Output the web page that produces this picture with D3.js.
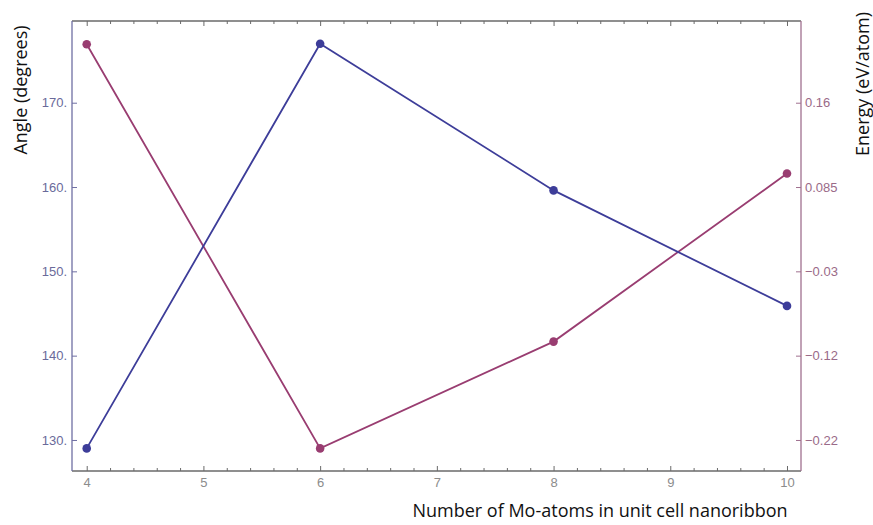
<!DOCTYPE html>
<html>
<head>
<meta charset="utf-8">
<script src="https://cdn.jsdelivr.net/npm/d3@7"></script>
<style>
  html, body { margin: 0; padding: 0; background: #fff; }
  svg { display: block; }
</style>
</head>
<body>
<svg id="chart" width="873" height="525"></svg>
<script>
// ---- data ----
const atoms = [4, 6, 8, 10];
const angleValues = [129.0, 177.0, 159.6, 145.9];          // degrees (left axis)
const energyValues = [0.212, -0.230, -0.105, 0.097];      // eV/atom (right axis)
const xTicks = [4, 5, 6, 7, 8, 9, 10];
const angleTicks = [130, 140, 150, 160, 170];
const energyTicks = [-0.22, -0.12, -0.03, 0.085, 0.16];
const energyTickLabels = ["\u22120.22", "\u22120.12", "\u22120.03", "0.085", "0.16"];

(function () {
const W = 873, H = 525;
const mLeft = 72, mRight = 801, mTop = 21, mBottom = 471;

const svg = d3.select("#chart");
svg.append("rect").attr("width", W).attr("height", H).attr("fill", "#fff");

const x = d3.scaleLinear().domain([3.874, 10.12]).range([mLeft, mRight]);
const y = d3.scaleLinear().domain([126.32, 179.69]).range([mBottom, mTop]);
// right axis: the energy labels sit at the angle tick positions (piecewise scale)
const yE = d3.scaleLinear().domain(energyTicks).range(angleTicks.map(v => y(v)));

const minorX = d3.range(0, 31).map(i => 4 + i * 0.2).filter(v => Math.abs(v - Math.round(v)) > 1e-6);

const tickFont = "Liberation Sans, Arial, sans-serif";
const leftCol = "#6f6fa3", rightCol = "#a0708f", frameCol = "#6a6a6a";
const blue = "#3d3d99", purple = "#993d71";

function styleAxis(g, col, textCol) {
  g.select(".domain").attr("stroke", col).attr("stroke-width", 1.3);
  g.selectAll(".tick line").attr("stroke", col).attr("stroke-width", 1);
  g.selectAll(".tick text").attr("fill", textCol).attr("font-family", tickFont).attr("font-size", 13);
}

// bottom axis
const gB = svg.append("g").attr("transform", `translate(0,${mBottom})`)
  .call(d3.axisBottom(x).tickValues(xTicks).tickFormat(d3.format("d")).tickSizeInner(-5).tickSizeOuter(0).tickPadding(7));
styleAxis(gB, frameCol, "#8c8c8c");
gB.select(".domain").attr("d", `M${mLeft},0H${mRight}`);
const gBm = svg.append("g").attr("transform", `translate(0,${mBottom})`)
  .call(d3.axisBottom(x).tickValues(minorX).tickFormat("").tickSizeInner(-3).tickSizeOuter(0));
styleAxis(gBm, frameCol, "#888");
gBm.select(".domain").remove();

// top axis
const gT = svg.append("g").attr("transform", `translate(0,${mTop})`)
  .call(d3.axisTop(x).tickValues(xTicks).tickFormat("").tickSizeInner(-5).tickSizeOuter(0));
styleAxis(gT, frameCol, "#888");
gT.select(".domain").attr("d", `M${mLeft},0H${mRight}`);
const gTm = svg.append("g").attr("transform", `translate(0,${mTop})`)
  .call(d3.axisTop(x).tickValues(minorX).tickFormat("").tickSizeInner(-3).tickSizeOuter(0));
styleAxis(gTm, frameCol, "#888");
gTm.select(".domain").remove();

// left axis
const gL = svg.append("g").attr("transform", `translate(${mLeft},0)`)
  .call(d3.axisLeft(y).tickValues(angleTicks).tickFormat(d => d + ".").tickSizeInner(-5).tickSizeOuter(0).tickPadding(5));
styleAxis(gL, leftCol, "#6a6a9a");
gL.select(".domain").attr("d", `M0,${mTop}V${mBottom}`);

// right axis
const gR = svg.append("g").attr("transform", `translate(${mRight},0)`)
  .call(d3.axisRight(yE).tickValues(energyTicks).tickFormat((d, i) => energyTickLabels[i]).tickSizeInner(-5).tickSizeOuter(0).tickPadding(4));
styleAxis(gR, rightCol, "#9a6a88");
gR.select(".domain").attr("d", `M0,${mTop}V${mBottom}`);

// series
const angleData = atoms.map((a, i) => ({ x: a, v: angleValues[i] }));
const energyData = atoms.map((a, i) => ({ x: a, v: energyValues[i] }));

svg.append("path").datum(energyData)
  .attr("fill", "none").attr("stroke", purple).attr("stroke-width", 1.8)
  .attr("d", d3.line().x(d => x(d.x)).y(d => yE(d.v)));
svg.append("g").selectAll("circle").data(energyData).join("circle")
  .attr("cx", d => x(d.x)).attr("cy", d => yE(d.v)).attr("r", 4.3).attr("fill", purple);

svg.append("path").datum(angleData)
  .attr("fill", "none").attr("stroke", blue).attr("stroke-width", 1.8)
  .attr("d", d3.line().x(d => x(d.x)).y(d => y(d.v)));
svg.append("g").selectAll("circle").data(angleData).join("circle")
  .attr("cx", d => x(d.x)).attr("cy", d => y(d.v)).attr("r", 4.3).attr("fill", blue);

// titles
const titleFont = "Open Sans, sans-serif";
svg.append("text").attr("transform", "translate(27,90) rotate(-90)")
  .attr("text-anchor", "middle").attr("font-family", titleFont).attr("font-size", 18)
  .attr("fill", "#111").text("Angle (degrees)");
svg.append("text").attr("transform", "translate(869,84) rotate(-90)")
  .attr("text-anchor", "middle").attr("font-family", titleFont).attr("font-size", 18)
  .attr("fill", "#111").text("Energy (eV/atom)");
svg.append("text").attr("x", 600).attr("y", 517)
  .attr("text-anchor", "middle").attr("font-family", titleFont).attr("font-size", 18)
  .attr("fill", "#111").text("Number of Mo-atoms in unit cell nanoribbon");
})();
</script>
</body>
</html>
